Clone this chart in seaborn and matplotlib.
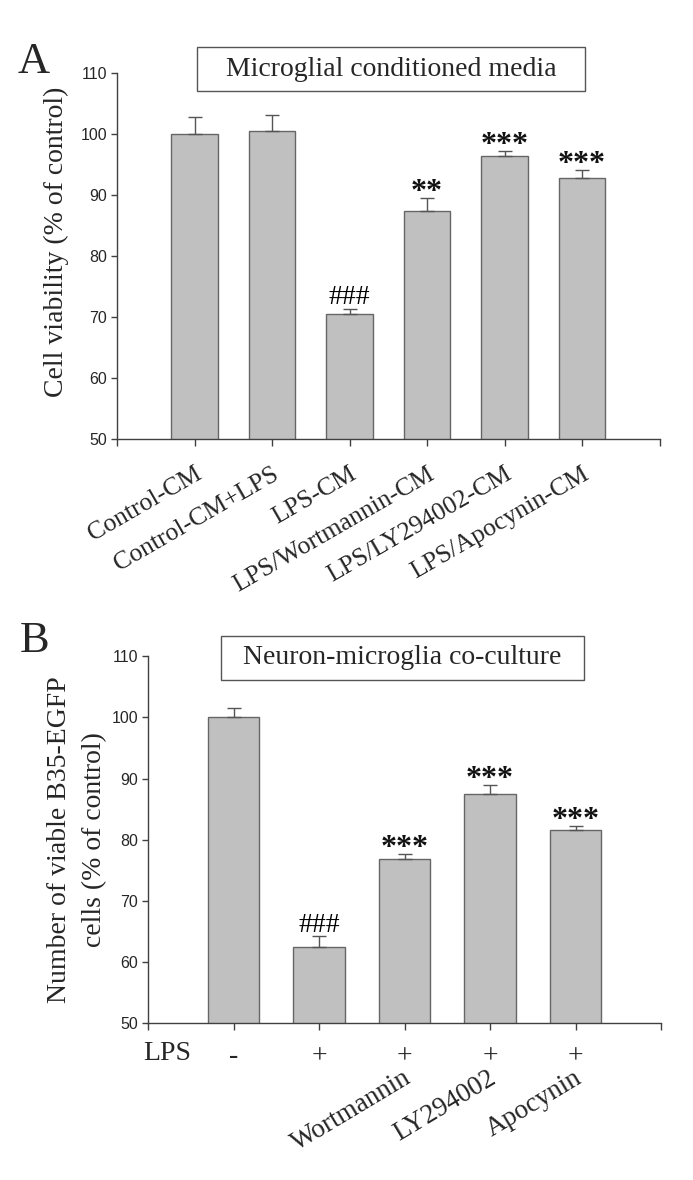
import matplotlib
matplotlib.use("Agg")
import matplotlib.pyplot as plt
import matplotlib.transforms as mtransforms
from matplotlib.patches import Rectangle
import seaborn as sns
import pandas as pd

# ---------------- data ----------------
condA = ["Control-CM", "Control-CM+LPS", "LPS-CM", "LPS/Wortmannin-CM",
         "LPS/LY294002-CM", "LPS/Apocynin-CM"]
meanA = [100.0, 100.6, 70.5, 87.4, 96.5, 92.8]
errA = [2.8, 2.6, 0.8, 2.2, 0.8, 1.4]
sigA = ["", "", "###", "**", "***", "***"]

condB = ["Control", "LPS", "LPS+Wortmannin", "LPS+LY294002", "LPS+Apocynin"]
lpsB = ["-", "+", "+", "+", "+"]
drugB = ["", "", "Wortmannin", "LY294002", "Apocynin"]
meanB = [100.0, 62.5, 76.8, 87.5, 81.6]
errB = [1.5, 1.7, 0.8, 1.5, 0.6]
sigB = ["", "###", "***", "***", "***"]

yticks = [50, 60, 70, 80, 90, 100, 110]

# ---------------- style ----------------
sns.set_style("white")
plt.rcParams["font.family"] = ["Liberation Serif", "DejaVu Serif"]
SANS = ["Liberation Sans", "DejaVu Sans"]
BAR = "#c0c0c0"
EDGE = "#666666"
AX = "#404040"
SER = 20

W, H = 693, 1180
fig = plt.figure(figsize=(W / 100, H / 100), dpi=100)


def px_axes(x0, x1, ytop, ybot):
    return fig.add_axes([x0 / W, 1 - ybot / H, (x1 - x0) / W, (ybot - ytop) / H])


def style_axes(ax, n):
    ax.set_ylim(50, 110)
    ax.set_xlim(-1, n)
    ax.set_yticks(yticks)
    ax.set_yticklabels([str(v) for v in yticks], fontfamily=SANS, fontsize=11.5)
    sns.despine(ax=ax)
    for s in ("left", "bottom"):
        ax.spines[s].set_color(AX)
        ax.spines[s].set_linewidth(1.0)
    ax.tick_params(axis="y", direction="out", length=4, width=1, color=AX, pad=3, left=True)
    ax.tick_params(axis="x", direction="out", length=5, width=1, color=AX, bottom=True)
    ax.set_xlabel("")
    ax.set_ylabel("")


def draw_bars(ax, cond, mean, err, sig):
    df = pd.DataFrame({"cond": cond, "mean": mean})
    sns.barplot(data=df, x="cond", y="mean", order=cond, color=BAR, edgecolor=EDGE,
                linewidth=1.0, width=0.6, errorbar=None, saturation=1, ax=ax)
    xs = list(range(len(cond)))
    ax.errorbar(xs, mean, yerr=[[0] * len(err), err], fmt="none", ecolor="#555555",
                elinewidth=1.0, capsize=5, capthick=1.0, zorder=3)
    for x, m, e, s in zip(xs, mean, err, sig):
        if s.startswith("#"):
            ax.text(x, m + e + 0.8, s, ha="center", va="baseline", fontsize=SER, color="black")
        elif s:
            ax.text(x, m + e - 0.3, s, ha="center", va="baseline", fontsize=23,
                    fontweight="bold", color="#111111")


# ---------------- Panel A ----------------
axA = px_axes(117, 659.5, 73.3, 439.3)
draw_bars(axA, condA, meanA, errA, sigA)
style_axes(axA, len(condA))
axA.set_xticks(list(range(-1, len(condA) + 1)))
axA.set_xticklabels([""] + condA + [""], rotation=30, ha="right", va="top",
                    rotation_mode="anchor", fontsize=18.5)
axA.tick_params(axis="x", pad=12)

fig.text(56 / W, 1 - 242 / H, "Cell viability (% of control)", rotation=90,
         ha="center", va="center", fontsize=SER)
fig.text(18 / W, 1 - 73 / H, "A", ha="left", va="baseline", fontsize=32)
fig.patches.append(Rectangle((197 / W, 1 - 91 / H), (585 - 197) / W, 44 / H,
                             transform=fig.transFigure, fill=False, edgecolor="#555555", lw=1.0))
fig.text(391 / W, 1 - 69 / H, "Microglial conditioned media", ha="center", va="center", fontsize=SER)

# ---------------- Panel B ----------------
axB = px_axes(148, 661, 656.3, 1023.3)
draw_bars(axB, condB, meanB, errB, sigB)
style_axes(axB, len(condB))
axB.set_xticks(list(range(-1, len(condB) + 1)))
axB.set_xticklabels([""] + lpsB + [""], fontsize=SER)
axB.tick_params(axis="x", pad=10)
blend = mtransforms.blended_transform_factory(axB.transData, axB.transAxes)
for i, d in enumerate(drugB):
    if d:
        axB.text(i, -0.115, d, transform=blend + mtransforms.ScaledTranslation(-2 / 100, 0, fig.dpi_scale_trans),
                 rotation=31, rotation_mode="anchor", ha="right", va="top", fontsize=19.5)
fig.text(143 / W, 1 - 1053 / H, "LPS", ha="left", va="center", fontsize=SER)

fig.text(77 / W, 1 - 840 / H, "Number of viable B35-EGFP\ncells (% of control)", rotation=90,
         ha="center", va="center", fontsize=SER, multialignment="center", linespacing=1.5)
fig.text(20 / W, 1 - 652 / H, "B", ha="left", va="baseline", fontsize=32)
fig.patches.append(Rectangle((221 / W, 1 - 680 / H), (584 - 221) / W, 44 / H,
                             transform=fig.transFigure, fill=False, edgecolor="#555555", lw=1.0))
fig.text(402.5 / W, 1 - 658 / H, "Neuron-microglia co-culture", ha="center", va="center", fontsize=SER)

fig.savefig("out.png", dpi=100, facecolor="white")
